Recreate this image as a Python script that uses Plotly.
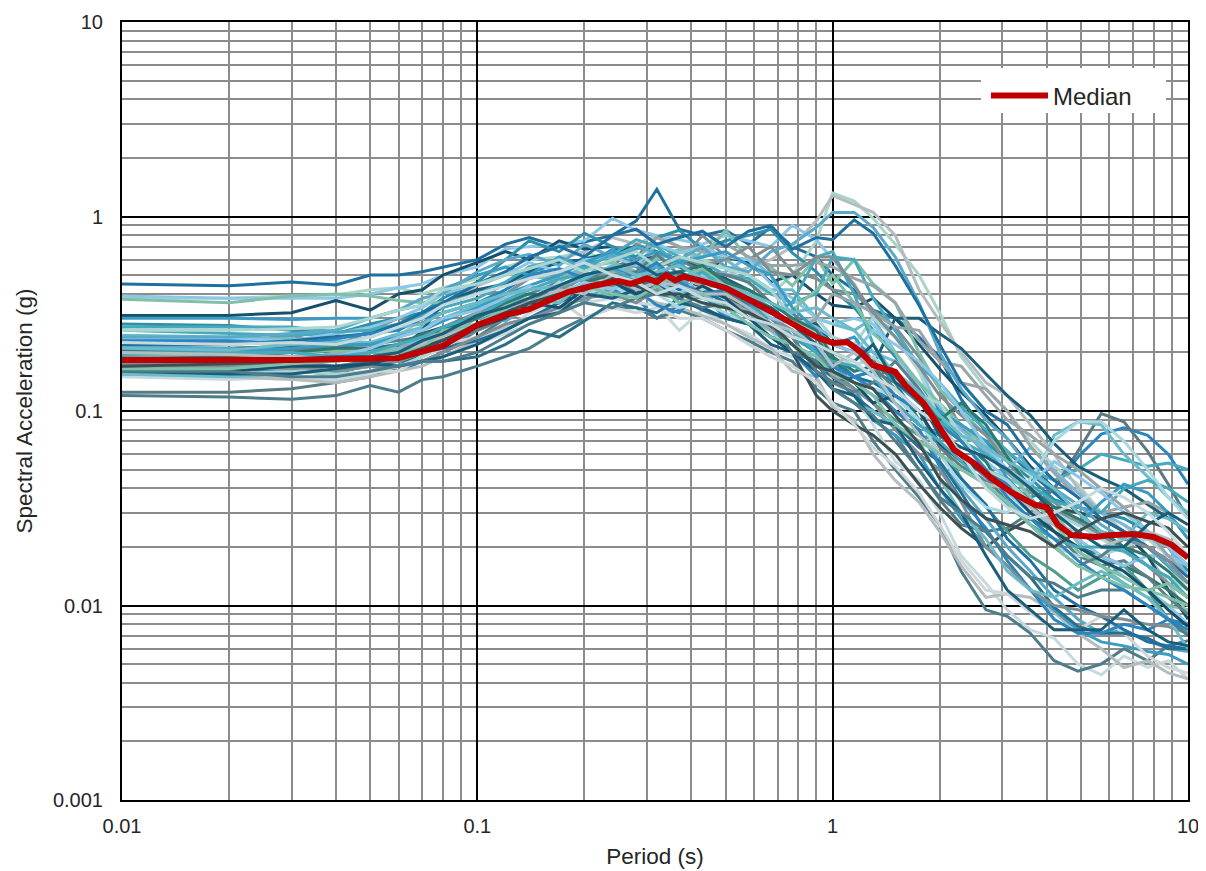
import plotly.graph_objects as go

periods = [.01,.02,.03,.04,.05,.06,.07,.08, .1,.12,.14,.17,.2,.24,.28,.32,
           .37,.43,.5,.58,.67,.77,.9,1, 1.15,1.3,1.5,1.75,2,2.3,2.7,3.1,
           3.6,4.2,4.9,5.7,6.6,7.7,8.8,10]

colors = ["#1f6f9f","#a8d5c8","#b5bcbf","#2a85c0","#8cc6e8","#5a7a82","#c5dadf","#4d7c8a","#b5bcbf","#17506b",
          "#2e90a8","#7e8e92","#7fc0a8","#46aabc","#6bbcc8","#1a5e7a","#3c4f52","#2f7a6f","#5aa9c9","#3a9cc4",
          "#7ab8e0","#9aa5a9","#4f9e8f","#d0d6d8","#2a6f8a","#1f6f9f","#2a85c0","#5f7f86","#a9d6d0","#8cc6e8",
          "#46aabc","#a8d8e0","#7e8e92","#6bbcc8","#1a5e7a","#7fc0a8","#9aa5a9",
          "#5aa9c9","#1f6f9f","#7e8e92","#3a9cc4","#5f7f86","#a9d6d0","#2f7a6f","#8cc6e8","#17506b","#46aabc",
          "#4d7c8a","#2a85c0","#b5bcbf","#7fc0a8","#6bbcc8","#1a5e7a","#3c4f52","#c5dadf"]

s01 = [.45,.44,.46,.445,.50,.50,.52,.55, .60,.72,.78,.70,.74,.80,.95,1.38, .86,.80,.85,.72,.88,.70,.62,.50, .42,.33,.30,.24,.19,.115,.078,.062, .048,.038,.030,.024,.020,.016,.013,.011]
s02 = [.38,.38,.39,.395,.42,.43,.40,.43, .48,.55,.60,.62,.66,.58,.70,.62, .66,.60,.55,.45,.40,.50,.75,1.32, 1.20,.98,.72,.50,.32,.19,.13,.10, .070,.052,.042,.030,.026,.020,.016,.012]
s03 = [.17,.165,.18,.19,.22,.24,.30,.34, .44,.50,.52,.60,.66,.78,.72,.80, .70,.58,.50,.55,.60,.70,.95,1.28, 1.15,1.05,.80,.42,.29,.20,.14,.12, .085,.060,.040,.030,.024,.018,.013,.009]
s04 = [.16,.16,.165,.17,.17,.16,.18,.20, .26,.30,.34,.40,.42,.42,.38,.30, .35,.40,.30,.28,.24,.22,.17,.19, .15,.13,.11,.085,.075,.060,.050,.042, .036,.040,.058,.076,.082,.075,.060,.042]
s05 = [.39,.38,.38,.38,.40,.43,.45,.50, .55,.68,.70,.72,.75,.98,.85,.80, .76,.72,.80,.75,.70,.90,.76,.60, .45,.30,.26,.17,.10,.070,.055,.045, .030,.028,.022,.018,.014,.012,.010,.008]
s06 = [.125,.125,.13,.14,.15,.17,.18,.20, .24,.30,.34,.42,.50,.55,.60,.55, .45,.42,.40,.35,.30,.24,.16,.13, .11,.09,.075,.05,.035,.026,.024,.025, .030,.040,.062,.097,.088,.062,.042,.028]
s07 = [.15,.145,.15,.145,.155,.17,.19,.21, .22,.25,.28,.33,.36,.38,.36,.35, .26,.33,.28,.25,.21,.19,.20,.14, .12,.085,.055,.044,.030,.018,.013,.0095, .0075,.0068,.0050,.0044,.0055,.0048,.0052,.0042]
s08 = [.12,.118,.115,.12,.135,.125,.145,.15, .17,.19,.21,.26,.30,.34,.34,.30, .33,.30,.26,.23,.20,.18,.13,.11, .10,.07,.05,.036,.026,.015,.0095,.0088, .0072,.0052,.0046,.0050,.0060,.0052,.0062,.0066]
s09 = [.155,.15,.145,.14,.15,.16,.17,.19, .23,.27,.30,.34,.38,.42,.40,.36, .34,.31,.28,.24,.21,.16,.15,.105, .09,.06,.044,.034,.024,.016,.011,.0115, .011,.0092,.0072,.0060,.0048,.0052,.0045,.0042]
s10 = [.31,.31,.32,.37,.33,.40,.42,.50, .58,.66,.60,.75,.68,.70,.60,.62, .55,.50,.62,.58,.46,.50,.40,.35, .34,.38,.30,.22,.165,.125,.095,.072, .052,.040,.030,.028,.024,.018,.012,.0085]
s11 = [.28,.275,.26,.25,.28,.30,.32,.38, .46,.60,.75,.66,.82,.70,.62,.78, .85,.68,.75,.80,.86,.65,.52,.42, .34,.26,.19,.14,.10,.08,.07,.055, .045,.035,.032,.030,.028,.024,.020,.015]
s12 = [.215,.225,.245,.215,.26,.30,.28,.36, .42,.40,.48,.52,.46,.55,.72,.66, .58,.80,.62,.60,.70,.52,.48,.42, .40,.33,.27,.19,.13,.082,.060,.048, .038,.034,.027,.023,.019,.016,.013,.011]
s13 = [.375,.36,.39,.40,.39,.37,.36,.36, .40,.45,.50,.48,.55,.58,.52,.60, .68,.62,.85,.60,.55,.44,.62,.45, .60,.45,.36,.20,.13,.10,.075,.060, .04,.03,.021,.016,.013,.011,.010,.0095]
s14 = [.26,.25,.245,.25,.27,.27,.30,.34, .38,.45,.55,.50,.62,.60,.68,.72, .62,.58,.50,.48,.40,.36,.40,.62, .60,.38,.26,.17,.14,.105,.08,.062, .05,.044,.050,.060,.056,.052,.054,.050]
s15 = [.245,.24,.235,.23,.225,.25,.27,.30, .35,.42,.50,.46,.55,.50,.56,.62, .55,.66,.60,.50,.42,.42,.30,.28, .26,.30,.20,.13,.095,.07,.05,.045, .040,.075,.088,.085,.060,.046,.036,.030]
s16 = [.175,.17,.17,.185,.19,.20,.26,.36, .42,.45,.52,.58,.60,.66,.70,.66, .60,.55,.48,.42,.36,.30,.28,.22, .20,.17,.30,.30,.25,.21,.155,.12, .095,.068,.052,.045,.040,.033,.028,.024]
s17 = [.21,.21,.215,.21,.20,.215,.25,.27, .30,.30,.33,.36,.42,.45,.42,.48, .46,.43,.38,.34,.27,.20,.12,.10, .085,.075,.06,.042,.032,.025,.02,.024, .028,.032,.030,.028,.024,.020,.016,.013]
s18 = [.205,.20,.21,.20,.205,.205,.22,.24, .28,.35,.38,.40,.42,.48,.38,.42, .40,.38,.40,.36,.32,.28,.24,.18, .15,.16,.14,.09,.10,.07,.055,.036, .028,.024,.020,.018,.016,.014,.012,.010]
s19 = [.215,.21,.20,.19,.20,.21,.23,.26, .30,.29,.34,.42,.36,.48,.40,.44, .40,.42,.36,.33,.30,.26,.22,.17, .14,.12,.10,.08,.055,.04,.028,.020, .015,.011,.0085,.0072,.0075,.0066,.0060,.0058]
s20 = [.30,.30,.295,.30,.30,.33,.35,.42, .50,.55,.50,.62,.55,.68,.55,.50, .58,.46,.44,.42,.33,.24,.20,.16, .13,.09,.075,.06,.04,.028,.02,.016, .012,.0095,.0075,.0065,.0062,.0058,.0056,.0050]
s21 = [.175,.17,.18,.20,.21,.21,.24,.25, .30,.34,.38,.42,.50,.42,.46,.40, .50,.48,.52,.62,.50,.30,.27,.24, .22,.20,.18,.14,.105,.08,.062,.05, .065,.05,.038,.030,.026,.022,.020,.014]
s22 = [.19,.19,.19,.195,.20,.22,.21,.24, .30,.40,.36,.48,.52,.46,.60,.78, .70,.66,.72,.62,.56,.56,.58,.55, .48,.44,.36,.23,.18,.14,.13,.10, .066,.048,.036,.030,.032,.034,.030,.022]
s23 = [.19,.185,.19,.19,.19,.20,.21,.22, .26,.30,.35,.40,.44,.40,.46,.40, .46,.38,.36,.34,.30,.26,.20,.16, .13,.11,.09,.075,.07,.045,.032,.024, .018,.015,.012,.014,.016,.012,.0085,.0072]
s24 = [.165,.16,.165,.15,.16,.16,.19,.22, .24,.26,.32,.37,.30,.34,.32,.34, .30,.30,.26,.22,.19,.17,.14,.11, .085,.065,.052,.038,.026,.017,.012,.0115, .0092,.0075,.0075,.0088,.0072,.0055,.0048,.0045]
s25 = [.17,.165,.16,.16,.17,.18,.18,.18, .19,.22,.26,.24,.29,.36,.34,.32, .38,.33,.30,.28,.24,.22,.17,.15, .12,.10,.085,.065,.055,.038,.024,.018, .014,.0098,.0078,.0072,.0072,.0068,.0060,.0060]
s26 = [.155,.155,.16,.155,.175,.17,.20,.21, .23,.26,.30,.36,.44,.42,.50,.48, .42,.42,.36,.32,.26,.20,.16,.14, .15,.14,.12,.09,.06,.045,.033,.022, .017,.012,.010,.0088,.0075,.0065,.0062,.0060]
s27 = [.17,.17,.175,.185,.20,.20,.22,.24, .28,.33,.36,.40,.50,.42,.42,.35, .32,.44,.30,.36,.26,.20,.15,.17, .15,.13,.10,.08,.052,.035,.025,.017, .012,.0085,.0072,.0072,.0080,.0075,.0085,.0080]
s28 = [.20,.205,.205,.215,.22,.23,.24,.27, .32,.38,.40,.46,.40,.52,.48,.55, .60,.52,.50,.46,.36,.32,.24,.22, .20,.17,.13,.10,.065,.052,.044,.040, .034,.024,.018,.016,.017,.014,.011,.009]
s29 = [.155,.155,.16,.155,.16,.17,.19,.22, .26,.30,.34,.40,.44,.50,.44,.50, .46,.42,.46,.38,.32,.28,.30,.24, .22,.30,.24,.16,.09,.06,.048,.036, .026,.02,.018,.018,.02,.022,.018,.014]
s30 = [.235,.235,.23,.25,.27,.30,.34,.40, .45,.50,.58,.52,.60,.62,.56,.72, .65,.70,.62,.60,.45,.38,.30,.28, .30,.28,.20,.12,.085,.06,.045,.038, .03,.026,.022,.018,.016,.018,.018,.016]
s31 = [.27,.27,.27,.255,.26,.28,.31,.36, .40,.46,.55,.60,.54,.64,.76,.70, .56,.50,.46,.40,.32,.36,.62,.66, .40,.22,.15,.12,.09,.07,.06,.05, .042,.034,.032,.030,.040,.044,.040,.034]
s32 = [.17,.165,.165,.16,.17,.19,.21,.24, .28,.32,.36,.46,.40,.44,.38,.40, .34,.36,.32,.28,.26,.20,.18,.16, .14,.13,.12,.09,.06,.042,.032,.03, .045,.07,.088,.088,.07,.05,.036,.028]
s33 = [.175,.17,.17,.16,.17,.17,.18,.20, .24,.28,.30,.34,.38,.40,.36,.42, .48,.40,.42,.38,.30,.26,.20,.15, .13,.11,.08,.06,.05,.034,.02,.016, .012,.010,.0095,.0088,.0085,.0080,.0078,.0072]
s34 = [.155,.15,.155,.165,.18,.18,.20,.24, .27,.32,.38,.36,.46,.38,.42,.50, .44,.38,.35,.30,.26,.22,.18,.13, .11,.10,.085,.07,.045,.03,.022,.015, .012,.011,.013,.015,.013,.011,.0085,.0060]
s35 = [.16,.155,.155,.165,.175,.17,.18,.19, .22,.26,.30,.32,.40,.38,.42,.46, .36,.34,.30,.28,.22,.20,.16,.13, .12,.09,.085,.055,.04,.03,.018,.012, .0095,.0075,.0075,.0075,.0095,.0075,.0065,.0062]
s36 = [.195,.19,.20,.205,.20,.205,.22,.26, .30,.35,.38,.44,.40,.50,.48,.46, .48,.54,.45,.40,.34,.33,.42,.50, .36,.25,.20,.14,.11,.085,.065,.05, .036,.026,.019,.016,.014,.012,.011,.010]
s37 = [.18,.18,.185,.19,.20,.22,.24,.26, .32,.40,.44,.50,.58,.52,.52,.46, .50,.44,.38,.32,.26,.24,.30,.40, .36,.32,.27,.26,.18,.17,.12,.09, .075,.060,.050,.040,.032,.024,.018,.014]
s38 = [.24,.24,.25,.26,.30,.33,.38,.40, .52,.60,.64,.56,.72,.62,.70,.65, .60,.70,.55,.52,.66,.72,.88,1.05, 1.05,.88,.62,.36,.20,.13,.09,.072, .050,.040,.033,.026,.022,.020,.016,.013]
s39 = [.22,.22,.23,.24,.25,.28,.32,.36, .45,.52,.62,.70,.62,.80,.86,.72, .78,.84,.70,.84,.90,.68,.78,.76, .96,.82,.56,.35,.22,.14,.10,.085, .058,.044,.036,.028,.024,.020,.017,.014]
s40 = [.165,.17,.165,.17,.18,.18,.20,.22, .27,.34,.36,.42,.48,.44,.50,.56, .62,.56,.60,.70,.52,.50,.62,.62, .44,.32,.24,.17,.12,.095,.075,.055, .040,.032,.026,.024,.022,.020,.017,.013]
s41 = [.20,.20,.21,.22,.22,.24,.26,.29, .34,.40,.44,.50,.58,.66,.60,.66, .58,.62,.66,.56,.50,.34,.26,.22, .24,.18,.14,.11,.10,.085,.07,.045, .034,.030,.026,.034,.042,.038,.030,.022]
s42 = [.18,.18,.18,.17,.18,.19,.20,.22, .26,.30,.36,.44,.50,.48,.52,.64, .50,.48,.44,.36,.28,.24,.16,.14, .125,.14,.18,.13,.085,.058,.046,.034, .026,.020,.016,.018,.022,.024,.020,.016]
s43 = [.26,.26,.265,.27,.30,.33,.35,.42, .45,.50,.54,.60,.52,.60,.66,.55, .62,.58,.54,.50,.42,.30,.25,.20, .17,.19,.15,.12,.11,.075,.05,.044, .034,.030,.026,.022,.019,.016,.014,.012]
s44 = [.185,.19,.20,.21,.21,.22,.25,.26, .30,.36,.40,.38,.46,.50,.44,.48, .52,.56,.46,.42,.36,.30,.26,.19, .16,.17,.15,.11,.09,.11,.085,.058, .040,.032,.028,.024,.020,.018,.015,.012]
s45 = [.185,.18,.19,.19,.21,.24,.26,.30, .33,.38,.44,.40,.46,.42,.50,.46, .40,.50,.44,.38,.30,.28,.24,.22, .20,.26,.22,.18,.14,.10,.066,.05, .042,.055,.046,.038,.030,.024,.020,.016]
s46 = [.165,.16,.17,.17,.175,.19,.21,.24, .27,.30,.36,.34,.42,.46,.40,.44, .38,.44,.38,.30,.24,.20,.18,.16, .14,.11,.12,.10,.068,.055,.048,.040, .030,.024,.020,.017,.015,.012,.0095,.0078]
s47 = [.195,.20,.20,.19,.20,.22,.24,.27, .31,.37,.42,.48,.50,.54,.46,.56, .44,.52,.42,.36,.28,.26,.20,.18, .17,.15,.11,.085,.07,.055,.042,.033, .026,.022,.020,.020,.019,.016,.014,.011]
s48 = [.16,.16,.15,.15,.16,.17,.18,.18, .20,.24,.28,.32,.36,.34,.38,.40, .38,.34,.36,.30,.28,.20,.18,.13, .11,.095,.07,.05,.036,.03,.024,.018, .014,.013,.011,.012,.012,.010,.0085,.0070]
s49 = [.23,.23,.22,.235,.25,.26,.30,.32, .36,.42,.50,.54,.48,.55,.50,.58, .46,.40,.42,.36,.32,.28,.21,.17, .15,.16,.12,.10,.085,.07,.05,.036, .028,.022,.017,.014,.012,.010,.0085,.0075]
s50 = [.20,.195,.19,.18,.19,.20,.22,.24, .28,.33,.36,.42,.40,.50,.42,.46, .44,.40,.40,.34,.28,.26,.22,.17, .20,.16,.11,.075,.060,.05,.042,.040, .032,.026,.024,.020,.022,.024,.022,.018]
s51 = [.165,.165,.175,.18,.19,.20,.21,.26, .28,.34,.33,.38,.44,.40,.38,.44, .36,.40,.34,.28,.24,.22,.19,.155, .14,.12,.085,.070,.060,.050,.042,.034, .026,.020,.016,.014,.0125,.012,.013,.011]
s52 = [.21,.205,.22,.225,.24,.27,.28,.32, .36,.40,.42,.44,.48,.56,.50,.52, .56,.48,.44,.40,.36,.32,.34,.30, .26,.20,.16,.125,.095,.075,.065,.055, .048,.040,.030,.024,.022,.030,.028,.024]
s53 = [.185,.18,.185,.19,.19,.20,.23,.25, .31,.34,.38,.44,.50,.54,.58,.50, .52,.46,.42,.38,.34,.28,.22,.20, .18,.22,.14,.115,.075,.065,.058,.05, .040,.030,.024,.020,.020,.026,.030,.026]
s54 = [.17,.175,.18,.185,.18,.19,.21,.23, .28,.32,.36,.40,.42,.48,.44,.40, .40,.36,.34,.32,.28,.22,.17,.16, .14,.13,.095,.068,.045,.035,.028,.026, .024,.020,.024,.028,.030,.027,.025,.020]
s55 = [.225,.22,.225,.22,.24,.27,.30,.35, .40,.44,.48,.52,.58,.50,.46,.40, .44,.38,.36,.30,.28,.24,.22,.20, .18,.15,.13,.10,.085,.06,.040,.032, .028,.030,.034,.040,.036,.030,.024,.018]

series = [s01,s02,s03,s04,s05,s06,s07,s08,s09,s10,s11,s12,s13,s14,s15,s16,s17,s18,s19,
          s20,s21,s22,s23,s24,s25,s26,s27,s28,s29,s30,s31,s32,s33,s34,s35,s36,s37,
          s38,s39,s40,s41,s42,s43,s44,s45,s46,s47,s48,s49,s50,s51,s52,s53,s54,s55]

median_periods = [.01,.03,.06,.07,.08,.1,.12,.14,.16,.18,.21,.25,.27,.3,.32,.34,.36,.38,.42,.5,.6,.7,.8,.9,1,1.1,1.2,1.3,1.5,1.6,1.8,2,2.2,2.5,2.8,3.2,3.7,4,4.3,4.7,5.5,6,7,8,9,10]
median_values = [.183,.183,.187,.201,.216,.277,.311,.334,.372,.409,.439,.466,.45,.48,.46,.50,.47,.49,.471,.429,.363,.311,.267,.24,.224,.226,.201,.172,.159,.136,.110,.082,.063,.054,.045,.038,.033,.032,.026,.023,.0225,.023,.0233,.0225,.0205,.0176]

major_x = [.01, .1, 1, 10]
major_y = [.001, .01, .1, 1, 10]
minor_x = [d * m for m in [.01, .1, 1] for d in range(2, 10)]
minor_y = [d * m for m in [.001, .01, .1, 1] for d in range(2, 10)]

fig = go.Figure()
for vals, col in zip(series, colors):
    fig.add_trace(go.Scatter(x=periods, y=vals, mode="lines", showlegend=False, hoverinfo="skip",
                             line=dict(color=col, width=3)))
fig.add_trace(go.Scatter(x=median_periods, y=median_values, mode="lines", name="Median",
                         line=dict(color="#c00000", width=6)))

font = "Liberation Sans, Arial, sans-serif"
def axis(title, ticks, minor, rng, standoff, ticklen):
    return dict(type="log", range=rng, automargin=False,
                title=dict(text=title, standoff=standoff, font=dict(size=22.5, color="#262626")),
                tickmode="array", tickvals=ticks, ticktext=[str(t) for t in ticks],
                showgrid=True, gridcolor="#000000", gridwidth=2, layer="below traces",
                minor=dict(tickmode="array", tickvals=minor, showgrid=True, gridcolor="#8c8c8c", gridwidth=2, ticks=""),
                showline=True, linecolor="#000000", linewidth=2, mirror=True,
                ticks="outside", ticklen=ticklen, tickcolor="rgba(0,0,0,0)", zeroline=False,
                tickfont=dict(size=20, color="#262626"))

fig.update_layout(
    width=1198, height=863, margin=dict(l=114, r=18, t=14, b=71),
    paper_bgcolor="white", plot_bgcolor="white", font=dict(family=font),
    xaxis=axis("Period (s)", major_x, minor_x, [-2, 1], 12, 7),
    yaxis=axis("Spectral Acceleration (g)", major_y, minor_y, [-3, 1], 14, 13),
    legend=dict(x=0.8105, y=0.934, xanchor="left", yanchor="top", bgcolor="rgba(255,255,255,0)",
                font=dict(size=24, color="#262626"), itemwidth=57, borderwidth=0),
    shapes=[dict(type="rect", xref="paper", yref="paper", x0=0.8058, x1=0.9794, y0=0.883, y1=0.9409,
                 fillcolor="white", line=dict(width=0), layer="above")],
)
fig.write_html("out.html")
